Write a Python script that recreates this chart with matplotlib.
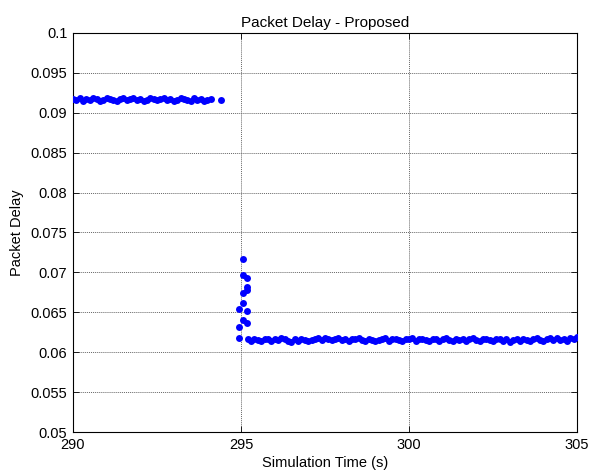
import matplotlib
matplotlib.use("Agg")
import matplotlib.pyplot as plt

# before the switch: delay sits near 0.0917 s
T_BEFORE = [290.0, 290.1, 290.2, 290.3, 290.4, 290.5, 290.6, 290.7, 290.8, 290.9,
            291.0, 291.1, 291.2, 291.3, 291.4, 291.5, 291.6, 291.7, 291.8, 291.9,
            292.0, 292.1, 292.2, 292.3, 292.4, 292.5, 292.6, 292.7, 292.8, 292.9,
            293.0, 293.1, 293.2, 293.3, 293.4, 293.5, 293.6, 293.7, 293.8, 293.9,
            294.0, 294.1, 294.4]
D_BEFORE = [0.0917, 0.0916, 0.0918, 0.0915, 0.0917, 0.0916, 0.0918, 0.0917, 0.0915, 0.0916,
            0.0918, 0.0917, 0.0916, 0.0915, 0.0917, 0.0918, 0.0916, 0.0917, 0.0919, 0.0916,
            0.0917, 0.0915, 0.0916, 0.0918, 0.0917, 0.0916, 0.0917, 0.0918, 0.0916, 0.0917,
            0.0915, 0.0916, 0.0918, 0.0917, 0.0916, 0.0915, 0.0918, 0.0916, 0.0917, 0.0915,
            0.0916, 0.0917, 0.0916]

# transient around t = 295 s
T_SPIKE = [294.94, 294.94, 294.94, 295.06, 295.06, 295.06, 295.06, 295.06,
           295.18, 295.18, 295.18, 295.18, 295.18]
D_SPIKE = [0.0618, 0.0632, 0.0654, 0.0640, 0.0662, 0.0674, 0.0697, 0.0717,
           0.0637, 0.0652, 0.0678, 0.0682, 0.0693]

# after the switch: delay sits near 0.0616 s
T_AFTER = [295.2, 295.3, 295.4, 295.5, 295.6, 295.7, 295.8, 295.9,
           296.0, 296.1, 296.2, 296.3, 296.4, 296.5, 296.6, 296.7, 296.8, 296.9,
           297.0, 297.1, 297.2, 297.3, 297.4, 297.5, 297.6, 297.7, 297.8, 297.9,
           298.0, 298.1, 298.2, 298.3, 298.4, 298.5, 298.6, 298.7, 298.8, 298.9,
           299.0, 299.1, 299.2, 299.3, 299.4, 299.5, 299.6, 299.7, 299.8, 299.9,
           300.0, 300.1, 300.2, 300.3, 300.4, 300.5, 300.6, 300.7, 300.8, 300.9,
           301.0, 301.1, 301.2, 301.3, 301.4, 301.5, 301.6, 301.7, 301.8, 301.9,
           302.0, 302.1, 302.2, 302.3, 302.4, 302.5, 302.6, 302.7, 302.8, 302.9,
           303.0, 303.1, 303.2, 303.3, 303.4, 303.5, 303.6, 303.7, 303.8, 303.9,
           304.0, 304.1, 304.2, 304.3, 304.4, 304.5, 304.6, 304.7, 304.8, 304.9,
           305.0]
D_AFTER = [0.0616, 0.0614, 0.0617, 0.0615, 0.0614, 0.0617, 0.0616, 0.0614,
           0.0617, 0.0615, 0.0618, 0.0616, 0.0614, 0.0613, 0.0616, 0.0614, 0.0617, 0.0615,
           0.0614, 0.0615, 0.0616, 0.0618, 0.0615, 0.0618, 0.0617, 0.0615, 0.0617, 0.0618,
           0.0615, 0.0617, 0.0614, 0.0616, 0.0617, 0.0618, 0.0615, 0.0614, 0.0617, 0.0615,
           0.0614, 0.0615, 0.0616, 0.0618, 0.0614, 0.0616, 0.0617, 0.0615, 0.0614, 0.0617,
           0.0616, 0.0618, 0.0614, 0.0616, 0.0617, 0.0615, 0.0614, 0.0617, 0.0616, 0.0614,
           0.0616, 0.0618, 0.0615, 0.0614, 0.0617, 0.0615, 0.0617, 0.0614, 0.0616, 0.0618,
           0.0615, 0.0614, 0.0616, 0.0617, 0.0615, 0.0614, 0.0616, 0.0617, 0.0614, 0.0616,
           0.0613, 0.0615, 0.0616, 0.0614, 0.0617, 0.0615, 0.0614, 0.0616, 0.0618, 0.0615,
           0.0614, 0.0616, 0.0618, 0.0615, 0.0618, 0.0615, 0.0617, 0.0614, 0.0618, 0.0616,
           0.0619]

X_TICKS = [290, 295, 300, 305]
Y_TICKS = [0.05, 0.055, 0.06, 0.065, 0.07, 0.075, 0.08, 0.085, 0.09, 0.095, 0.1]
Y_LABELS = ["0.05", "0.055", "0.06", "0.065", "0.07", "0.075", "0.08",
            "0.085", "0.09", "0.095", "0.1"]

plt.rcParams["font.family"] = ["Liberation Sans", "DejaVu Sans"]
plt.rcParams["font.size"] = 10.5

fig = plt.figure(figsize=(5.9, 4.71), dpi=100)
ax = fig.add_axes([0.1237, 0.0828, 0.8543, 0.8472])

for t, d in ((T_BEFORE, D_BEFORE), (T_SPIKE, D_SPIKE), (T_AFTER, D_AFTER)):
    ax.plot(t, d, "o", color="#0000ff", markersize=5.0, markeredgewidth=0,
            zorder=3)

ax.set_xlim(290, 305)
ax.set_ylim(0.05, 0.1)
ax.set_xticks(X_TICKS)
ax.set_xticklabels([str(v) for v in X_TICKS])
ax.set_yticks(Y_TICKS)
ax.set_yticklabels(Y_LABELS)
ax.grid(True, color="0.4", linestyle=(0, (1, 1)), linewidth=0.7)
ax.tick_params(direction="in", top=True, right=True, length=4, width=0.6,
               pad=4)
for s in ax.spines.values():
    s.set_linewidth(0.8)

ax.set_title("Packet Delay - Proposed", fontsize=11, pad=4.5)
ax.set_xlabel("Simulation Time (s)", labelpad=3)
ax.set_ylabel("Packet Delay", labelpad=5)

fig.savefig("out.png", dpi=100)
